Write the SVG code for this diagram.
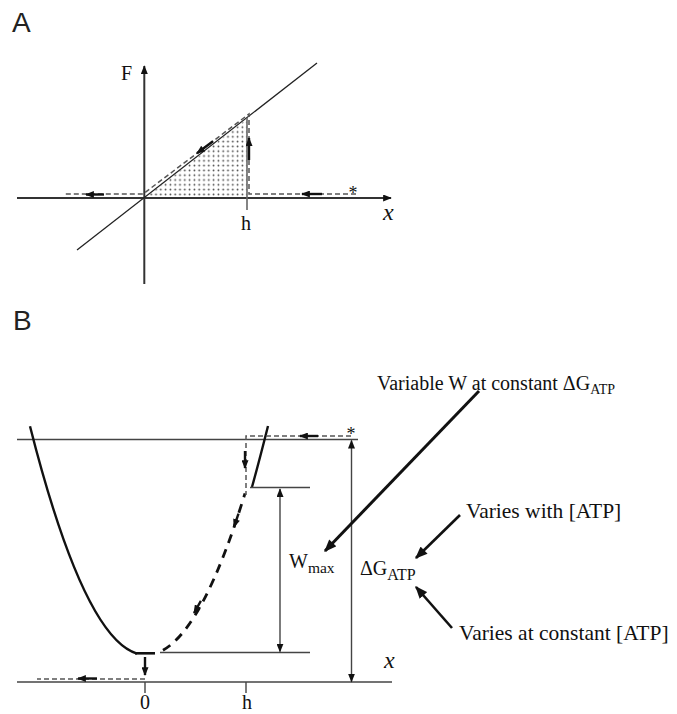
<svg xmlns="http://www.w3.org/2000/svg" width="677" height="714" viewBox="0 0 677 714">
<style>
.ax{stroke:#333;stroke-width:2;fill:none}
.thin{stroke:#444;stroke-width:1.4;fill:none}
.dash{stroke:#555;stroke-width:1.5;fill:none;stroke-dasharray:5 3}
.arr{stroke:#111;stroke-width:2.4;fill:none;marker-end:url(#ah)}
.curve{stroke:#111;stroke-width:2.4;fill:none}
.dcurve{stroke:#111;stroke-width:2.8;fill:none;stroke-dasharray:9 7}
.ser{font-family:"Liberation Serif","Times New Roman",serif;fill:#111}
.sans{font-family:"Liberation Sans",Arial,sans-serif;fill:#222}
</style>
<defs>
<marker id="ah" viewBox="0 0 10 8" refX="9" refY="4" markerWidth="9" markerHeight="7" markerUnits="userSpaceOnUse" orient="auto-start-reverse"><path d="M0,0 L10,4 L0,8 z" fill="#111"/></marker>
<marker id="ahBig" viewBox="0 0 10 8" refX="9" refY="4" markerWidth="13" markerHeight="10" markerUnits="userSpaceOnUse" orient="auto-start-reverse"><path d="M0,0 L10,4 L0,8 z" fill="#111"/></marker>
<pattern id="dots" width="4.8" height="4.8" patternUnits="userSpaceOnUse"><circle cx="2.4" cy="2.4" r="0.9" fill="#444"/></pattern>
</defs>

<g id="panelA">
<text class="sans" x="12" y="32" font-size="28">A</text>
<polygon points="146,197 247,119 247,197" fill="url(#dots)"/>
<line class="ax" x1="144.3" y1="284" x2="144.3" y2="66" marker-end="url(#ah)"/>
<line class="ax" x1="17" y1="198" x2="391" y2="198" marker-end="url(#ah)"/>
<line stroke="#222" stroke-width="1.3" x1="77" y1="250" x2="317" y2="63"/>
<line stroke="#666" stroke-width="1.6" x1="247" y1="118" x2="247" y2="210"/>
<path class="dash" d="M356,194 H249 V114 L143,194 H65"/>
<line class="arr" x1="322" y1="194" x2="302" y2="194"/>
<line class="arr" x1="249" y1="160" x2="249" y2="138"/>
<line class="arr" x1="213" y1="141.2" x2="197" y2="153.3"/>
<line class="arr" x1="104" y1="194.5" x2="86" y2="194.5"/>
<text class="ser" x="121" y="80" font-size="20">F</text>
<text class="ser" x="246" y="230" font-size="20" text-anchor="middle">h</text>
<text class="ser" x="383" y="220" font-size="24" font-style="italic">x</text>
<text class="ser" x="353" y="199" font-size="18" text-anchor="middle">*</text>
</g>

<g id="panelB">
<text class="sans" x="13" y="330" font-size="28">B</text>
<line class="thin" x1="17" y1="439.5" x2="358" y2="439.5"/>
<line class="thin" x1="17" y1="682" x2="392" y2="682"/>
<path class="curve" d="M30,426.2 Q83.5,637.2 137,653.6"/>
<path class="dcurve" d="M163,650.2 Q204,627.2 245,493.3"/>
<path class="curve" d="M252,487 Q259.5,460 268,426"/>
<line stroke="#111" stroke-width="2.6" x1="135" y1="653.3" x2="155" y2="653.3"/>
<line class="thin" x1="160" y1="652.5" x2="310" y2="652.5"/>
<line class="thin" x1="250" y1="487.5" x2="310" y2="487.5"/>
<line class="thin" x1="145" y1="682" x2="145" y2="693"/>
<line class="thin" x1="246" y1="682" x2="246" y2="693"/>
<path class="dash" d="M351,436 H246 V495"/>
<path class="dash" d="M145,679 H37"/>
<line class="arr" x1="318" y1="436" x2="300" y2="436"/>
<line class="arr" x1="245" y1="451" x2="245" y2="468"/>
<line class="arr" x1="145" y1="657" x2="145" y2="675"/>
<line class="arr" x1="97" y1="678.5" x2="78" y2="678.5"/>
<line class="arr" x1="238.5" y1="513.7" x2="234" y2="527"/>
<line class="arr" x1="200.9" y1="600.8" x2="194" y2="613"/>
<text class="ser" x="351" y="440" font-size="18" text-anchor="middle">*</text>
<text class="ser" x="145" y="709" font-size="20" text-anchor="middle">0</text>
<text class="ser" x="247" y="709" font-size="20" text-anchor="middle">h</text>
<text class="ser" x="384" y="668" font-size="24" font-style="italic">x</text>
</g>

<g id="connectors">
<line class="thin" x1="280" y1="489" x2="280" y2="651.5" marker-start="url(#ah)" marker-end="url(#ah)"/>
<line class="thin" x1="351.5" y1="440.5" x2="351.5" y2="681.5" marker-start="url(#ah)" marker-end="url(#ah)"/>
<line stroke="#111" stroke-width="3" x1="479" y1="391" x2="325" y2="551" marker-end="url(#ahBig)"/>
<line stroke="#111" stroke-width="2.6" x1="460" y1="515" x2="416" y2="558" marker-end="url(#ahBig)"/>
<line stroke="#111" stroke-width="2.6" x1="452" y1="628" x2="416" y2="587" marker-end="url(#ahBig)"/>
</g>

<g id="labels">
<text class="ser" x="377" y="390" font-size="20">Variable W at constant ΔG<tspan font-size="14" dy="4">ATP</tspan></text>
<text class="ser" x="289" y="568" font-size="20">W<tspan font-size="15.5" dy="5">max</tspan></text>
<text class="ser" x="360" y="575" font-size="20">ΔG<tspan font-size="16" dy="5">ATP</tspan></text>
<text class="ser" x="466" y="518" font-size="21.5">Varies with [ATP]</text>
<text class="ser" x="459" y="640" font-size="21.5">Varies at constant [ATP]</text>
</g>
</svg>
